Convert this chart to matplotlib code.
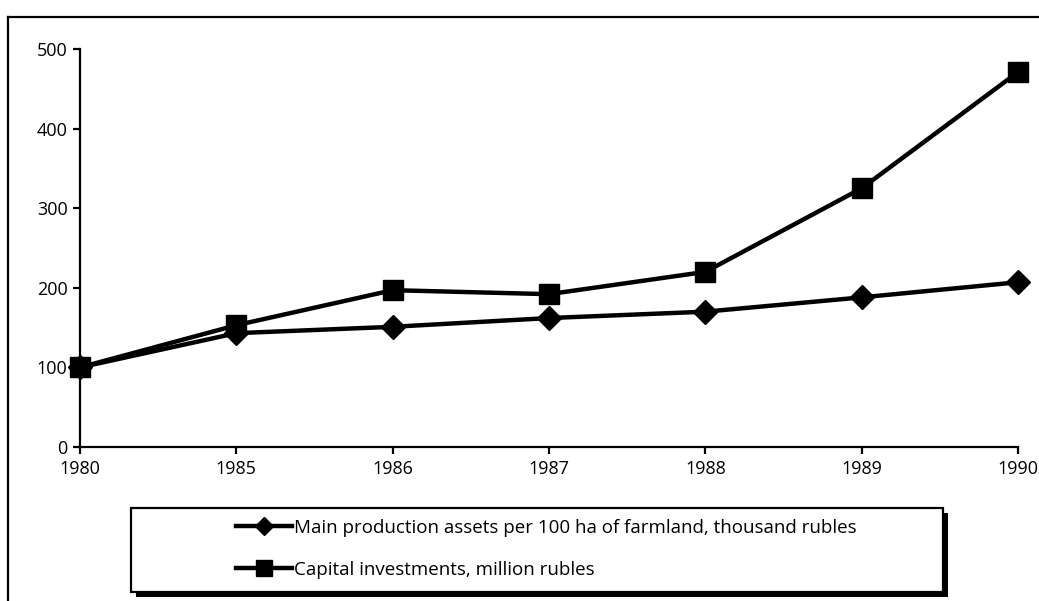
import matplotlib.pyplot as plt
from matplotlib.patches import Rectangle
from matplotlib.lines import Line2D

years = ['1980', '1985', '1986', '1987', '1988', '1989', '1990']
assets = [100, 143, 151, 162, 170, 188, 207]
investments = [100, 153, 197, 192, 220, 325, 471]
assets_label = 'Main production assets per 100 ha of farmland, thousand rubles'
invest_label = 'Capital investments, million rubles'

plt.rcParams['font.family'] = ['Open Sans', 'DejaVu Sans']

W, H = 1039, 601
fig = plt.figure(figsize=(W / 100, H / 100), dpi=100)

# outer chart frame (cut off on right and bottom)
fig.add_artist(Line2D([8 / W, 8 / W], [1 - 17 / H, 0], color='black', lw=1.6,
                      transform=fig.transFigure))
fig.add_artist(Line2D([8 / W, 1], [1 - 17 / H, 1 - 17 / H], color='black', lw=1.6,
                      transform=fig.transFigure))

ax = fig.add_axes([80 / W, (H - 447) / H, (1018 - 80) / W, (447 - 49) / H])
x = list(range(len(years)))
ax.plot(x, assets, color='black', lw=3.2, marker='D', markersize=12,
        clip_on=False, zorder=3, label=assets_label)
ax.plot(x, investments, color='black', lw=3.2, marker='s', markersize=14,
        clip_on=False, zorder=4, label=invest_label)

ax.set_xlim(0, len(years) - 1)
ax.set_ylim(0, 500)
ax.set_xticks(x)
ax.set_xticklabels(years)
ax.set_yticks([0, 100, 200, 300, 400, 500])
for s in ['top', 'right']:
    ax.spines[s].set_visible(False)
for s in ['left', 'bottom']:
    ax.spines[s].set_linewidth(1.6)
ax.tick_params(axis='both', labelsize=13, width=1.6, length=5, direction='out', pad=4)

# legend box with offset shadow
fig.add_artist(Rectangle((136 / W, (H - 597) / H), (948 - 136) / W, (597 - 513) / H,
                         transform=fig.transFigure, facecolor='black', edgecolor='none', zorder=1))
fig.add_artist(Rectangle((131 / W, (H - 592) / H), (943 - 131) / W, (592 - 508) / H,
                         transform=fig.transFigure, facecolor='white', edgecolor='black',
                         lw=1.6, zorder=2))
leg = fig.legend(loc='upper left', bbox_to_anchor=(236 / W, 1 - 519 / H),
                 frameon=False, fontsize=13.5, handlelength=3.0, handletextpad=0.1,
                 borderpad=0, borderaxespad=0, labelspacing=1.27, markerscale=0.8)
leg.set_zorder(3)

fig.savefig('out.png', dpi=100)
